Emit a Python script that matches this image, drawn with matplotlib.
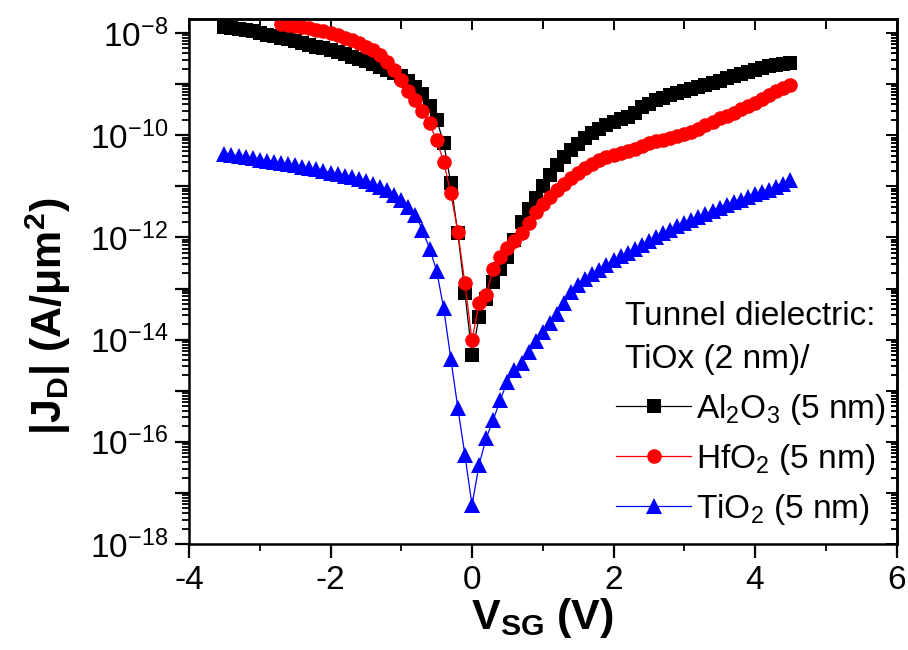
import numpy as np
import matplotlib
matplotlib.use("Agg")
import matplotlib.pyplot as plt
from matplotlib.ticker import FixedLocator, FuncFormatter, NullFormatter, MultipleLocator
from matplotlib.lines import Line2D

plt.rcParams.update({
    "font.family": ["Liberation Sans", "DejaVu Sans"],
    "mathtext.fontset": "custom",
    "mathtext.rm": "Liberation Sans",
    "mathtext.it": "Liberation Sans:italic",
    "mathtext.bf": "Liberation Sans:bold",
    "mathtext.default": "regular",
    "axes.unicode_minus": False,
})

# Gate voltage sweeps (V), 0.1 V steps
V_STEP = 0.1
v_al2o3 = np.round(np.arange(-35, 46) * V_STEP, 1)
v_hfo2 = np.round(np.arange(-27, 46) * V_STEP, 1)
v_tio2 = np.round(np.arange(-35, 46) * V_STEP, 1)

# log10 |J_D| (A/um^2)
log_j_al2o3 = [
    -7.88, -7.90, -7.92, -7.95, -7.97, -8.00, -8.03, -8.06, -8.09, -8.12,
    -8.15, -8.19, -8.23, -8.27, -8.30, -8.34, -8.38, -8.42, -8.46, -8.50,
    -8.55, -8.60, -8.66, -8.72, -8.78, -8.84, -8.93, -9.05, -9.20, -9.42,
    -9.70, -10.15, -10.94, -11.92, -13.09, -14.30,
    -13.55, -13.20, -12.88, -12.62, -12.38, -12.05, -11.70, -11.45, -11.22, -11.00,
    -10.78, -10.58, -10.42, -10.28, -10.17, -10.05, -9.95, -9.88, -9.81, -9.75,
    -9.69, -9.64, -9.57, -9.45, -9.38, -9.32, -9.27, -9.22, -9.18, -9.14,
    -9.10, -9.06, -9.02, -8.97, -8.93, -8.88, -8.84, -8.80, -8.76, -8.72,
    -8.68, -8.65, -8.63, -8.61, -8.59,
]
log_j_hfo2 = [
    -7.83, -7.85, -7.87, -7.89, -7.91, -7.94, -7.97, -8.00, -8.04, -8.09,
    -8.14, -8.20, -8.27, -8.34, -8.44, -8.56, -8.72, -8.92, -9.13, -9.32,
    -9.52, -9.77, -10.10, -10.52, -11.14, -11.89, -12.90, -14.01,
    -13.29, -13.12, -12.62, -12.38, -12.21, -12.07, -11.92, -11.72, -11.50, -11.35,
    -11.21, -11.08, -10.96, -10.84, -10.73, -10.64, -10.56, -10.49, -10.43, -10.38,
    -10.34, -10.30, -10.27, -10.22, -10.16, -10.12, -10.09, -10.06, -10.02, -9.98,
    -9.93, -9.87, -9.81, -9.74, -9.67, -9.62, -9.56, -9.49, -9.43, -9.37,
    -9.29, -9.21, -9.14, -9.08, -9.02,
]
log_j_tio2 = [
    -10.36, -10.38, -10.41, -10.43, -10.45, -10.48, -10.50, -10.52, -10.55, -10.57,
    -10.59, -10.62, -10.64, -10.67, -10.70, -10.73, -10.76, -10.79, -10.82, -10.86,
    -10.90, -10.95, -11.01, -11.08, -11.17, -11.27, -11.40, -11.56, -11.85, -12.22,
    -12.65, -13.39, -14.37, -15.34, -16.26, -17.24,
    -16.45, -15.93, -15.57, -15.18, -14.82, -14.60, -14.45, -14.25, -14.02, -13.85,
    -13.68, -13.50, -13.28, -13.07, -12.93, -12.82, -12.72, -12.63, -12.54, -12.45,
    -12.37, -12.30, -12.23, -12.15, -12.07, -11.99, -11.92, -11.85, -11.78, -11.71,
    -11.65, -11.60, -11.54, -11.48, -11.42, -11.36, -11.31, -11.26, -11.21, -11.16,
    -11.11, -11.07, -11.01, -10.95, -10.88,
]

labels = [r"Al$_2$O$_3$ (5 nm)", r"HfO$_2$ (5 nm)", r"TiO$_2$ (5 nm)"]
colors = ["#000000", "#ff0000", "#0000ff"]
markers = ["s", "o", "^"]
msizes = [9.5, 10.5, 11.5]

x_major = [-4, -2, 0, 2, 4, 6]
y_major_exp = [-18, -16, -14, -12, -10, -8]

fig = plt.figure(figsize=(9.08, 6.50), dpi=100)
W, H = 908, 650
ax = fig.add_axes([189 / W, 1 - 544 / H, (896.5 - 189) / W, (544 - 19) / H])

series = [(v_al2o3, log_j_al2o3), (v_hfo2, log_j_hfo2), (v_tio2, log_j_tio2)]
for (v, lj), c, m, ms in zip(series, colors, markers, msizes):
    ax.plot(v, 10.0 ** np.asarray(lj), color=c, lw=0.9, marker=m, ms=ms,
            markeredgewidth=0, markerfacecolor=c)

ax.set_yscale("log")
ax.set_xlim(-4, 6)
ax.set_ylim(1e-18, 10 ** -7.726)

# bottom / left ticks point outward
ax.xaxis.set_major_locator(FixedLocator(x_major))
ax.xaxis.set_minor_locator(MultipleLocator(1))
decades = [10.0 ** e for e in range(-18, -7)]
ax.yaxis.set_major_locator(FixedLocator(decades))
subs = [k * 10.0 ** e for e in range(-19, -7) for k in range(2, 10)]
ax.yaxis.set_minor_locator(FixedLocator(subs))
ax.yaxis.set_major_formatter(FuncFormatter(
    lambda y, p: r"$10^{%d}$" % round(np.log10(y)) if round(np.log10(y)) in y_major_exp else ""))
ax.yaxis.set_minor_formatter(NullFormatter())
ax.tick_params(axis="both", which="major", direction="out", length=10, width=1.6,
               labelsize=24, pad=5)
ax.tick_params(axis="both", which="minor", direction="out", length=5, width=1.3)
for s in ax.spines.values():
    s.set_linewidth(1.8)

# top / right ticks point inward
top = ax.secondary_xaxis("top")
top.xaxis.set_major_locator(FixedLocator(x_major))
top.xaxis.set_minor_locator(MultipleLocator(1))
top.tick_params(which="both", direction="in", labeltop=False, width=1.4)
top.tick_params(which="major", length=8)
top.tick_params(which="minor", length=7)
top.spines["top"].set_linewidth(1.8)

right = ax.secondary_yaxis("right")
right.yaxis.set_major_locator(FixedLocator(decades))
right.yaxis.set_minor_locator(FixedLocator(subs))
right.tick_params(which="both", direction="in", labelright=False, width=1.4)
right.tick_params(which="major", length=8)
right.tick_params(which="minor", length=4)
right.spines["right"].set_linewidth(1.8)

ax.set_xlabel(r"V$_\mathbf{SG}$ (V)", fontsize=31, fontweight="bold", labelpad=0)
fig.text(48 / W, 1 - 316 / H, r"|J$_\mathbf{D}$| (A/μm$^\mathbf{2}$)", fontsize=31,
         fontweight="bold", rotation=90, ha="center", va="center")

# legend header and entries
fig.text(625 / W, 1 - 325 / H, "Tunnel dielectric:", fontsize=24, va="baseline")
fig.text(625 / W, 1 - 368 / H, "TiOx (2 nm)/", fontsize=24, va="baseline")
handles = [Line2D([], [], color=c, lw=0.9, marker=m, ms=ms, markeredgewidth=0)
           for c, m, ms in zip(colors, markers, msizes)]
ax.legend(handles, labels, loc="upper left", bbox_to_anchor=(616 / W, 1 - 392 / H),
          bbox_transform=fig.transFigure, frameon=False, fontsize=24, borderpad=0,
          borderaxespad=0, handlelength=2.25, handletextpad=0.15, labelspacing=0.45,
          numpoints=1)

fig.savefig("out.png", dpi=100)
